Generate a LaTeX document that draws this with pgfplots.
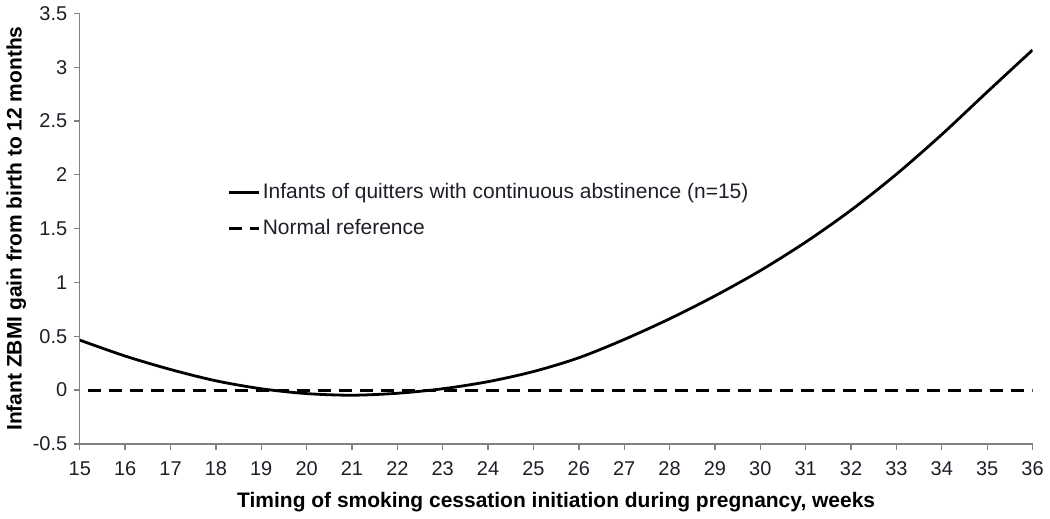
\documentclass[border=0pt]{standalone}
\usepackage{pgfplots}
\pgfplotsset{compat=1.18}
\usepackage{fontspec}
\setmainfont{Liberation Sans}
\definecolor{axgray}{RGB}{128,128,128}
\definecolor{txt}{RGB}{30,30,40}
\begin{document}
\fontsize{19}{22}\selectfont
\begin{tikzpicture}
\begin{axis}[
  scale only axis, width=954pt, height=431pt,
  xmin=15, xmax=36, ymin=-0.5, ymax=3.5,
  xtick={15,16,...,36}, ytick={-0.5,0,0.5,1,1.5,2,2.5,3,3.5},
  axis lines=left,
  axis line style={-, axgray, line width=1.3pt},
  tick style={axgray, line width=1.3pt},
  tick align=outside, major tick length=6pt,
  /pgf/number format/assume math mode=true,
  /pgf/number format/fixed,
  ticklabel style={font=\fontsize{20}{22}\selectfont, text=txt},
  xticklabel style={yshift=-5pt},
  xlabel={\bfseries Timing of smoking cessation initiation during pregnancy, weeks},
  ylabel={\bfseries Infant ZBMI gain from birth to 12 months},
  label style={font=\fontsize{21}{24}\selectfont, text=black},
  xlabel style={yshift=-4pt},
  ylabel style={yshift=-6pt},
  legend style={draw=none, fill=none, at={(axis cs:18.26,1.94)}, anchor=north west,
    font=\fontsize{21}{24}\selectfont, text=txt, row sep=14pt, inner sep=0pt,
    nodes={inner xsep=2pt}},
  legend cell align=left,
  legend image code/.code={\draw[#1, dash phase=0pt] (0pt,0pt) -- (30pt,0pt);},
]
\addplot[black, smooth, line width=2.8pt] coordinates {
(15,0.464) (16,0.316) (17,0.191) (18,0.086) (19,0.012) (20,-0.033) (21,-0.048)
(22,-0.030) (23,0.012) (24,0.078) (25,0.172) (26,0.300) (27,0.470) (28,0.662)
(29,0.875) (30,1.110) (31,1.375) (32,1.672) (33,2.006) (34,2.375) (35,2.770) (36,3.160)};
\addlegendentry{Infants of quitters with continuous abstinence (n=15)}
\addplot[black, dash pattern=on 13pt off 8pt, dash phase=13pt, line width=3pt] coordinates {(15,0) (36,0)};
\addlegendentry{Normal reference}
\end{axis}
\end{tikzpicture}
\end{document}
